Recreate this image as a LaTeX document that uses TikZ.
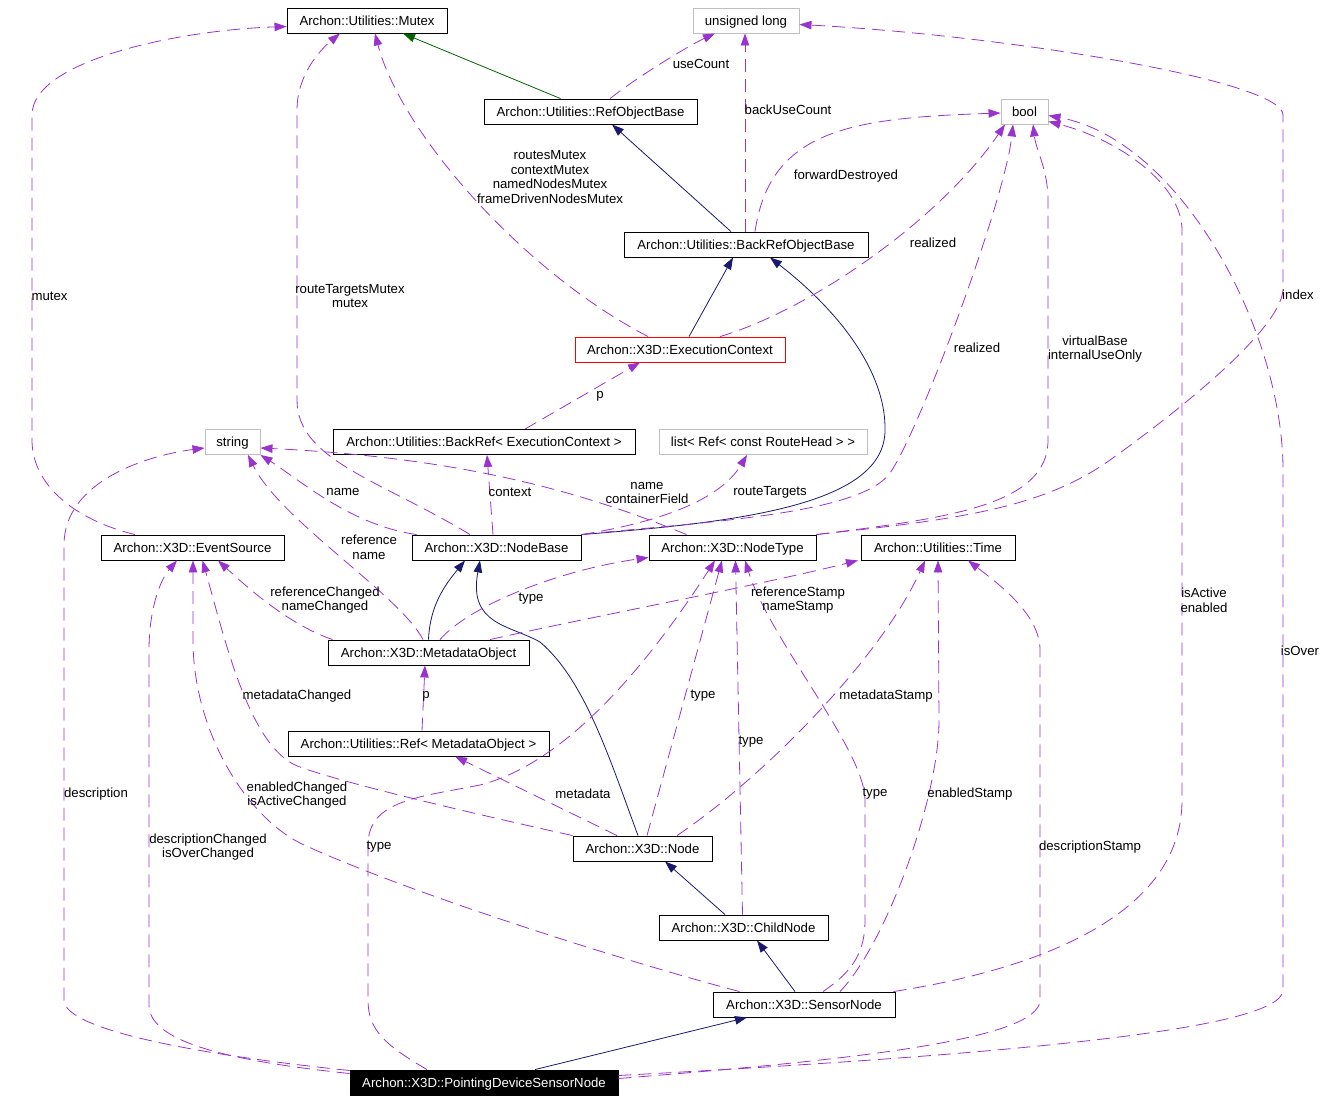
\documentclass[tikz,border=0pt]{standalone}
\usepackage{fontspec}
\setmainfont{Liberation Sans}
\usetikzlibrary{arrows.meta, positioning}
\definecolor{edgeblue}{HTML}{191970}
\definecolor{edgegreen}{HTML}{006400}
\definecolor{edgepurple}{HTML}{9A32CD}
\definecolor{boxgrey}{HTML}{BFBFBF}
\tikzstyle{cls}     = [draw, line width=0.9pt, minimum height=25pt, inner sep=2pt, text height=9.5pt, text depth=0pt, font=\fontsize{13.2}{14.7}\selectfont]
\tikzstyle{ext}     = [cls, draw=boxgrey]
\tikzstyle{lbl}     = [inner sep=0pt, align=center, font=\fontsize{13.2}{14.7}\selectfont]
\tikzstyle{inherit} = [color=edgeblue, line width=0.8pt, -{Triangle[length=12pt,width=8.5pt]}]
\tikzstyle{protinh} = [inherit, color=edgegreen]
\tikzstyle{uses}    = [color=edgepurple, line width=0.8pt, dash pattern=on 13pt off 7pt, -{Triangle[length=12pt,width=8.5pt]}]

\begin{document}
\begin{tikzpicture}[x=1pt, y=-1pt]
\useasboundingbox (0,0) rectangle (1328,1101);

% classes
\node[cls, minimum width=160] (Mutex)      at (367,20.5)    {Archon::Utilities::Mutex};
\node[ext, minimum width=106] (ULong)      at (746,20.5)    {unsigned long};
\node[cls, minimum width=213] (RefObj)     at (590.5,111.5) {Archon::Utilities::RefObjectBase};
\node[ext, minimum width=47]  (Bool)       at (1024.5,111.5) {bool};
\node[cls, minimum width=244] (BackRefObj) at (746,244.5)   {Archon::Utilities::BackRefObjectBase};
\node[cls, draw=red, minimum width=210] (ExecCtx) at (680,349.5) {Archon::X3D::ExecutionContext};
\node[ext, minimum width=55]  (String)     at (232.5,442)   {string};
\node[cls, minimum width=302] (BackRef)    at (484,442)     {Archon::Utilities::BackRef< ExecutionContext >};
\node[ext, minimum width=208] (RouteList)  at (763,442)     {list< Ref< const RouteHead > >};
\node[cls, minimum width=183] (EventSource) at (192.5,547.5) {Archon::X3D::EventSource};
\node[cls, minimum width=169] (NodeBase)   at (496.5,547.5) {Archon::X3D::NodeBase};
\node[cls, minimum width=167] (NodeType)   at (732.5,547.5) {Archon::X3D::NodeType};
\node[cls, minimum width=154] (Time)       at (938,547.5)   {Archon::Utilities::Time};
\node[cls, minimum width=201] (MetaObj)    at (428.5,652.5) {Archon::X3D::MetadataObject};
\node[cls, minimum width=261] (MetaRef)    at (418.5,743.5) {Archon::Utilities::Ref< MetadataObject >};
\node[cls, minimum width=139] (Node)       at (642.5,848.5) {Archon::X3D::Node};
\node[cls, minimum width=169] (ChildNode)  at (743.5,927.5) {Archon::X3D::ChildNode};
\node[cls, minimum width=182] (SensorNode) at (804,1004.5)  {Archon::X3D::SensorNode};
\node[cls, fill=black, text=white, minimum width=268] (PDSN) at (484,1082.5) {Archon::X3D::PointingDeviceSensorNode};

% inheritance
\draw[protinh] ([xshift=-30pt]RefObj.north) -- ([xshift=36pt]Mutex.south);
\draw[inherit] ([xshift=-15pt]BackRefObj.north) -- ([xshift=21.5pt]RefObj.south);
\draw[inherit] ([xshift=9pt]ExecCtx.north) -- ([xshift=-13pt]BackRefObj.south);
\draw[inherit] (NodeBase.north east) .. controls (740,522) and (885,505) .. (885,430) .. controls (886,380) and (850,320) .. ([xshift=24pt]BackRefObj.south);
\draw[inherit] (MetaObj.north) .. controls (430,605) and (445,585) .. ([xshift=-31.5pt]NodeBase.south);
\draw[inherit] ([xshift=-4.5pt]Node.north) .. controls (610,760) and (585,680) .. (540,642) .. controls (510,625) and (468,625) .. ([xshift=-16.5pt]NodeBase.south);
\draw[inherit] ([xshift=-18.5pt]ChildNode.north) -- ([xshift=22.5pt]Node.south);
\draw[inherit] ([xshift=-9pt]SensorNode.north) -- ([xshift=13.5pt]ChildNode.south);
\draw[inherit] ([xshift=51pt]PDSN.north) -- ([xshift=-57pt]SensorNode.south);

% members
\draw[uses] ([xshift=-57.5pt]EventSource.north) .. controls (75,520) and (32,485) .. (32,440) -- (32,115) .. controls (32,60) and (180,30) .. ([yshift=-6pt]Mutex.west);
\draw[uses] ([xshift=-26.5pt]NodeBase.north) .. controls (380,480) and (297,460) .. (297,400) -- (297,110) .. controls (297,75) and (320,50) .. ([xshift=-27pt]Mutex.south);
\draw[uses] ([xshift=-32pt]ExecCtx.north) .. controls (520,270) and (400,130) .. ([xshift=8pt]Mutex.south);
\draw[uses] ([xshift=19.5pt]RefObj.north) .. controls (640,75) and (690,45) .. ([xshift=-31pt]ULong.south);
\draw[uses] ([xshift=-1pt]BackRefObj.north) -- ([xshift=-1pt]ULong.south);
\draw[uses] (NodeType.north east) .. controls (950,520) and (1040,510) .. (1110,460) .. controls (1180,410) and (1280,330) .. (1283,290) -- (1283,115) .. controls (1283,80) and (1000,35) .. ([yshift=-4pt]ULong.east);
\draw[uses] (NodeType.north east) .. controls (950,518) and (1048,505) .. (1048,440) -- (1048,200) .. controls (1048,170) and (1036,150) .. ([xshift=8.5pt]Bool.south);
\draw[uses] ([xshift=9pt]BackRefObj.north) .. controls (770,130) and (850,118) .. ([yshift=-1.5pt]Bool.west);
\draw[uses] ([xshift=40pt]ExecCtx.north) .. controls (810,310) and (940,220) .. ([xshift=-19.5pt]Bool.south);
\draw[uses] (NodeBase.north east) .. controls (700,522) and (860,515) .. (890,473) .. controls (920,430) and (1005,200) .. ([xshift=-11.5pt]Bool.south);
\draw[uses] ([xshift=-2pt]SensorNode.north east) .. controls (1000,975) and (1182,930) .. (1182,800) -- (1182,230) .. controls (1182,185) and (1120,140) .. ([yshift=-10pt]Bool.east);
\draw[uses] ([yshift=7pt]PDSN.east) .. controls (1000,1055) and (1283,1030) .. (1283,990) -- (1283,470) .. controls (1283,330) and (1180,140) .. ([yshift=-4pt]Bool.east);
\draw[uses] ([yshift=4pt]PDSN.east) .. controls (850,1060) and (1040,1040) .. (1040,1000) -- (1040,650) .. controls (1040,615) and (1000,585) .. ([xshift=30pt]Time.south);
\draw[uses] ([xshift=36pt]SensorNode.north) .. controls (885,945) and (939,800) .. (939,720) -- (Time.south);
\draw[uses] ([xshift=34.5pt]Node.north) .. controls (760,780) and (880,660) .. ([xshift=-13pt]Time.south);
\draw[uses] ([xshift=61.5pt]MetaObj.north) .. controls (600,615) and (760,585) .. ([xshift=-80pt]Time.south);
\draw[uses] ([xshift=11.5pt]MetaObj.north) .. controls (470,605) and (560,570) .. ([yshift=-10pt]NodeType.west);
\draw[uses] ([xshift=4.5pt]Node.north) -- ([xshift=-10.5pt]NodeType.south);
\draw[uses] ([xshift=-1pt]ChildNode.north) -- ([xshift=3pt]NodeType.south);
\draw[uses] ([xshift=19pt]SensorNode.north) .. controls (855,970) and (865,950) .. (865,920) -- (865,800) .. controls (865,750) and (770,640) .. ([xshift=12.5pt]NodeType.south);
\draw[uses] ([xshift=-57pt]PDSN.north) .. controls (385,1045) and (368,1030) .. (368,1000) -- (368,845) .. controls (368,800) and (420,797) .. (480,785) .. controls (580,760) and (670,630) .. ([xshift=-17.5pt]NodeType.south);
\draw[uses] ([xshift=5pt]NodeBase.north west) .. controls (350,525) and (300,480) .. (String.south east);
\draw[uses] ([xshift=-5.5pt]MetaObj.north) .. controls (400,595) and (280,520) .. ([xshift=15.5pt]String.south);
\draw[uses] ([xshift=38pt]NodeType.north west) .. controls (590,495) and (470,458) .. ([yshift=-6pt]String.east);
\draw[uses] ([yshift=12pt]PDSN.west) .. controls (200,1055) and (64,1030) .. (64,1000) -- (64,545) .. controls (64,480) and (150,455) .. ([yshift=-6pt]String.west);
\draw[uses] ([yshift=9pt]PDSN.west) .. controls (220,1060) and (149,1040) .. (149,1005) -- (149,650) .. controls (149,610) and (160,580) .. ([xshift=-15.5pt]EventSource.south);
\draw[uses] ([xshift=27pt]SensorNode.north west) .. controls (620,960) and (400,890) .. (300,843) .. controls (245,815) and (193,730) .. (193,640) -- ([xshift=0.5pt]EventSource.south);
\draw[uses] (Node.north west) .. controls (480,815) and (350,785) .. (300,767) .. controls (250,750) and (225,640) .. ([xshift=10pt]EventSource.south);
\draw[uses] ([xshift=5pt]MetaObj.north west) .. controls (290,625) and (250,590) .. ([xshift=25.5pt]EventSource.south);
\draw[uses] ([xshift=-25.5pt]Node.north) -- ([xshift=36.5pt]MetaRef.south);
\draw[uses] ([xshift=3.5pt]MetaRef.north) -- ([xshift=-3.5pt]MetaObj.south);
\draw[uses] ([xshift=41pt]BackRef.north) -- ([xshift=-40pt]ExecCtx.south);
\draw[uses] ([xshift=-3.5pt]NodeBase.north) -- ([xshift=3pt]BackRef.south);
\draw[uses] (NodeBase.north east) .. controls (660,522) and (720,500) .. ([xshift=-16pt]RouteList.south);

% member labels
\node[lbl] (Lmutex)     at (49.5,296) {mutex};
\node[lbl] (LrtMutex)   at (350,296)  {routeTargetsMutex\\mutex};
\node[lbl] (LecMutex)   at (550,177)  {routesMutex\\contextMutex\\namedNodesMutex\\frameDrivenNodesMutex};
\node[lbl] (LuseCount)  at (701,64)   {useCount};
\node[lbl] (LbackUse)   at (788,110)  {backUseCount};
\node[lbl] (LfwdDestr)  at (846,176)  {forwardDestroyed};
\node[lbl] (LrealEC)    at (933,243)  {realized};
\node[lbl] (LrealNB)    at (977,348)  {realized};
\node[lbl] (LvirtBase)  at (1095,349) {virtualBase\\internalUseOnly};
\node[lbl] (Lindex)     at (1298,295) {index};
\node[lbl] (LpEC)       at (600,396)  {p};
\node[lbl] (LnameNB)    at (343,492)  {name};
\node[lbl] (Lcontext)   at (510,492)  {context};
\node[lbl] (LnameNT)    at (647,493)  {name\\containerField};
\node[lbl] (LrouteTg)   at (770,492)  {routeTargets};
\node[lbl] (LrefName)   at (369,547)  {reference\\name};
\node[lbl] (LrefChg)    at (325,600)  {referenceChanged\\nameChanged};
\node[lbl] (LtypeMO)    at (531,599)  {type};
\node[lbl] (LrefStamp)  at (798,600)  {referenceStamp\\nameStamp};
\node[lbl] (LisActive)  at (1204,600) {isActive\\enabled};
\node[lbl] (LisOver)    at (1300,651) {isOver};
\node[lbl] (LmetaChg)   at (297,696)  {metadataChanged};
\node[lbl] (LpMO)       at (426,696)  {p};
\node[lbl] (LtypeN)     at (703,696)  {type};
\node[lbl] (LmetaStamp) at (886,696)  {metadataStamp};
\node[lbl] (LtypeCN)    at (751,742)  {type};
\node[lbl] (Ldescr)     at (96,794)   {description};
\node[lbl] (LenChg)     at (297,795)  {enabledChanged\\isActiveChanged};
\node[lbl] (Lmetadata)  at (583,794)  {metadata};
\node[lbl] (LtypeSN)    at (875,794)  {type};
\node[lbl] (LenStamp)   at (970,794)  {enabledStamp};
\node[lbl] (LdescChg)   at (208,847)  {descriptionChanged\\isOverChanged};
\node[lbl] (LtypePD)    at (379,847)  {type};
\node[lbl] (LdescStamp) at (1090,847) {descriptionStamp};

\end{tikzpicture}
\end{document}
